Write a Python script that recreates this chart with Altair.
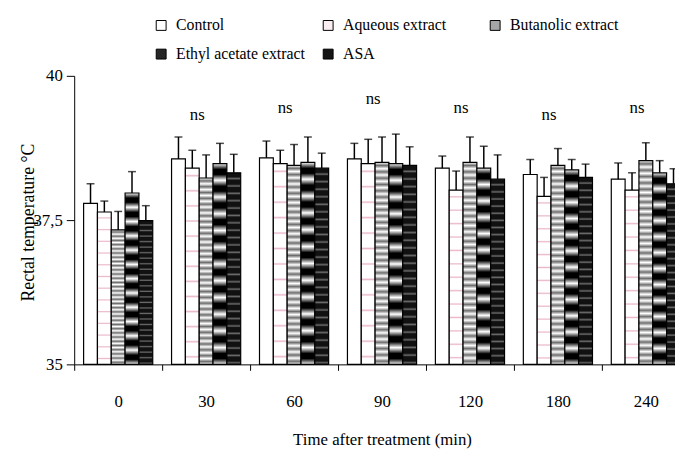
import altair as alt
import pandas as pd

times = ["0", "30", "60", "90", "120", "180", "240"]
series = ["Control", "Aqueous extract", "Butanolic extract", "Ethyl acetate extract", "ASA"]

control = [37.79, 38.56, 38.58, 38.56, 38.40, 38.29, 38.21]
aqueous = [37.64, 38.40, 38.48, 38.48, 38.02, 37.91, 38.02]
butanolic = [37.33, 38.23, 38.45, 38.50, 38.50, 38.45, 38.53]
ethyl = [37.97, 38.48, 38.50, 38.48, 38.40, 38.37, 38.32]
asa = [37.49, 38.32, 38.40, 38.45, 38.21, 38.24, 38.13]

control_err = [0.34, 0.38, 0.29, 0.27, 0.21, 0.26, 0.28]
aqueous_err = [0.19, 0.31, 0.23, 0.42, 0.33, 0.33, 0.30]
butanolic_err = [0.32, 0.40, 0.36, 0.44, 0.44, 0.29, 0.31]
ethyl_err = [0.37, 0.35, 0.44, 0.51, 0.38, 0.18, 0.21]
asa_err = [0.26, 0.32, 0.26, 0.32, 0.42, 0.23, 0.26]

ns_times = ["30", "60", "90", "120", "180", "240"]
ns_labels = ["ns", "ns", "ns", "ns", "ns", "ns"]
ns_y = [39.32, 39.45, 39.59, 39.45, 39.32, 39.45]

y_ticks = [35, 37.5, 40]

vals = [control, aqueous, butanolic, ethyl, asa]
errs = [control_err, aqueous_err, butanolic_err, ethyl_err, asa_err]
rows = []
for s, v, e in zip(series, vals, errs):
    for t, vv, ee in zip(times, v, e):
        rows.append({"time": t, "series": s, "value": vv, "err": ee, "hi": vv + ee})
df = pd.DataFrame(rows)
ns_df = pd.DataFrame({"time": ns_times, "label": ns_labels, "y": ns_y})

FONT = "Liberation Serif, Times New Roman, serif"


def stripes(cycle, n):
    stops = []
    for i in range(n):
        for off, col in cycle:
            stops.append(alt.GradientStop(color=col, offset=(i + off) / n))
    return alt.LinearGradient(gradient="linear", stops=stops, x1=0, x2=0, y1=0, y2=1)


fills = {
    "Control": "white",
    "Aqueous extract": stripes([(0, "#ffffff"), (0.4, "#ffffff"), (0.5, "#eab8cc"), (0.6, "#ffffff"), (1, "#ffffff")], 13),
    "Butanolic extract": stripes([(0, "#ffffff"), (0.5, "#6e6e6e"), (1, "#ffffff")], 32),
    "Ethyl acetate extract": stripes([(0, "#ffffff"), (0.35, "#000000"), (0.65, "#000000"), (1, "#ffffff")], 12),
    "ASA": stripes([(0, "#111111"), (0.55, "#111111"), (0.8, "#6a6a6a"), (1, "#111111")], 26),
}
legend_colors = ["#ffffff", "#fbeef3", "#a6a6a6", "#262626", "#141414"]

x_enc = alt.X(
    "time:N",
    sort=times,
    scale=alt.Scale(domain=times, range=[0, 623], paddingInner=0, paddingOuter=0),
    axis=alt.Axis(
        title="Time after treatment (min)",
        labelAngle=0,
        tickBand="extent",
        tickSize=6,
        labelPadding=24,
        titleY=76,
        titleBaseline="middle",
    ),
)
xo_enc = alt.XOffset(
    "series:N",
    sort=series,
    scale=alt.Scale(domain=series, paddingInner=0, paddingOuter=0.68),
)
y_scale = alt.Scale(domain=[35, 40], nice=False, zero=False)
y_axis = alt.Axis(
    values=y_ticks,
    title="Rectal temperature °C",
    labelExpr="replace(format(datum.value, '~g'), '.', ',')",
    tickSize=8,
    labelPadding=4,
    titleX=-46,
    titleY=148,
    titleBaseline="middle",
    titleFontSize=18,
)

base = alt.Chart(df)
layers = []
for s in series:
    layers.append(
        base.transform_filter(alt.datum.series == s)
        .mark_bar(fill=fills[s], stroke="black", strokeWidth=1.2)
        .encode(
            x=x_enc,
            xOffset=xo_enc,
            y=alt.Y("value:Q", scale=y_scale, axis=y_axis),
            y2=alt.Y2Datum(35),
        )
    )

rules = base.mark_rule(color="black", strokeWidth=1.5).encode(
    x=x_enc, xOffset=xo_enc, y=alt.Y("value:Q", scale=y_scale, axis=y_axis), y2="hi:Q"
)
caps = base.mark_tick(color="black", size=8, thickness=1.5).encode(
    x=x_enc, xOffset=xo_enc, y=alt.Y("hi:Q", scale=y_scale, axis=y_axis)
)
ns_text = alt.Chart(ns_df).mark_text(
    font=FONT, fontSize=17, dx=-9, baseline="middle", color="black"
).encode(x=x_enc, y=alt.Y("y:Q", scale=y_scale, axis=y_axis), text="label:N")

legend_layer = base.transform_filter("false").mark_bar(stroke="black").encode(
    x=x_enc,
    y=alt.Y("value:Q", scale=y_scale, axis=y_axis),
    fill=alt.Fill(
        "series:N",
        scale=alt.Scale(domain=series, range=legend_colors),
        legend=alt.Legend(
            title=None,
            orient="none",
            legendX=80,
            legendY=-59,
            direction="horizontal",
            columns=3,
            gridAlign="all",
            columnPadding=15,
            rowPadding=13,
            symbolType="square",
            symbolSize=100,
            symbolStrokeColor="black",
            symbolStrokeWidth=1,
            symbolOpacity=1,
            labelFont=FONT,
            labelFontSize=16,
            labelColor="black",
            labelOffset=7,
            labelLimit=300,
        ),
    ),
)

chart = (
    alt.layer(*layers, rules, caps, ns_text, legend_layer)
    .properties(
        width=608,
        height=292,
        autosize=alt.AutoSizeParams(type="none"),
        padding={"left": 67, "top": 66, "right": 0, "bottom": 84},
    )
    .configure_view(stroke=None)
    .configure_axis(
        grid=False,
        labelFont=FONT,
        labelFontSize=17,
        labelColor="black",
        titleFont=FONT,
        titleFontSize=17,
        titleFontWeight="normal",
        titleColor="black",
        domainColor="black",
        tickColor="black",
        domainWidth=1,
        tickWidth=1,
    )
)

chart.save("out.html", embed_options={"renderer": "svg", "actions": False})
